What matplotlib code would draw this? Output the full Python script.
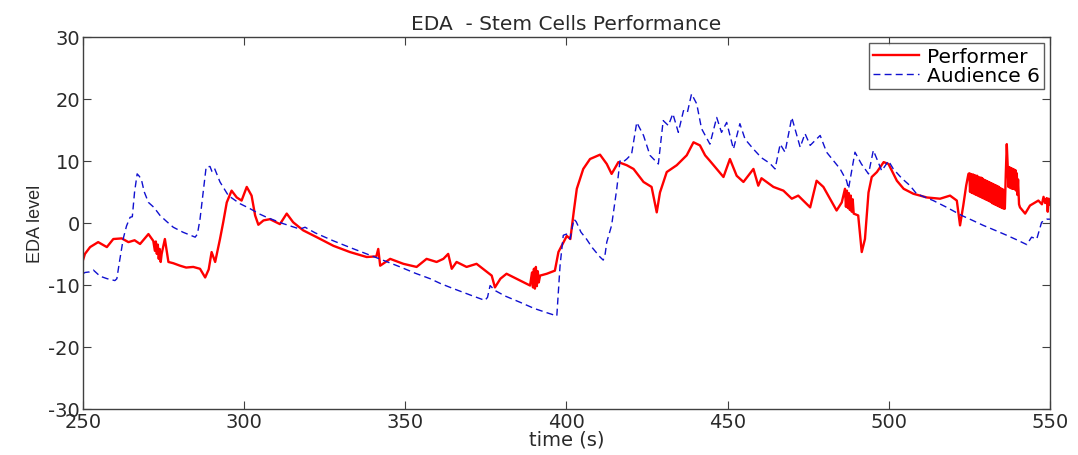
import matplotlib
matplotlib.use("Agg")
import matplotlib.pyplot as plt

# Audience 6 (blue dashed) - time (s), EDA level
aud_t = [250, 250.6, 252, 253.2, 255.3, 257.5, 259.9, 260.5, 261.3, 262.5, 263.5, 264.6, 265.3, 266.0, 266.8,
         267.5, 268.2, 269.0, 270.3, 272.0, 273.9, 276.0, 278.0, 281.0, 284.8, 285.5, 286.3, 287.3, 288.2,
         289.4, 290.0, 290.8, 292.5, 295.1, 298.7, 301.8, 304.9, 307.0, 312.0, 317.3, 318.9, 322.0, 327.7,
         333.0, 338.0, 343.0, 348.4, 353.0, 357.7, 361.0, 364.9, 370.0, 374.7, 375.5, 376.3, 377.8, 381.0,
         385.6, 390.0, 394.0, 397.0, 397.5, 398.0, 399.0, 400.0, 401.1, 402.3, 403.0, 404.5, 406.2, 408.0,
         410.4, 411.4, 412.0, 412.5, 414.0, 415.6, 416.6, 417.5, 418.7, 420.2, 421.8, 423.9, 425.9, 428.5,
         430.0, 431.6, 433.0, 434.7, 436.3, 437.5, 438.8, 440.4, 441.9, 444.5, 446.6, 448.1, 449.7, 451.8,
         453.8, 455.4, 458.0, 460.5, 463.1, 464.7, 466.3, 467.8, 469.9, 472.5, 474.0, 475.6, 478.7, 480.7,
         484.9, 486.9, 487.5, 489.5, 491.5, 493.7, 495.2, 497.8, 499.9, 501.4, 504.0, 506.6, 508.6, 513.8,
         518.0, 522.6, 526.0, 529.3, 533.0, 536.6, 540.0, 542.8, 544.3, 545.9, 547.4, 549.0, 550.0]
aud_v = [-8.2, -8.0, -7.9, -7.6, -8.6, -9.0, -9.3, -9.0, -6.3, -2.5, -0.5, 0.9, 1.0, 5.0, 7.9,
         7.5, 6.8, 5.0, 3.3, 2.5, 1.2, 0.2, -0.7, -1.5, -2.3, -1.8, 0.6, 5.0, 9.0,
         9.1, 8.3, 8.8, 6.6, 4.4, 3.1, 2.3, 1.4, 0.9, -0.1, -1.0, -0.7, -1.6, -2.9,
         -4.0, -5.0, -6.0, -7.1, -8.1, -9.0, -9.8, -10.6, -11.6, -12.5, -12.0, -10.1, -10.9, -11.8,
         -12.8, -13.8, -14.5, -15.0, -11.0, -6.9, -2.0, -1.8, -2.6, 0.6, 0.2, -1.5, -2.6, -4.0,
         -5.5, -6.0, -5.0, -3.1, -0.4, 5.5, 10.0, 9.8, 10.3, 11.1, 16.2, 14.1, 10.9, 9.5,
         16.5, 15.7, 17.6, 14.6, 18.1, 17.8, 20.8, 19.2, 15.2, 12.7, 17.0, 14.6, 16.2, 11.9,
         16.0, 13.5, 11.9, 10.5, 9.6, 8.7, 12.7, 11.4, 17.0, 12.2, 14.4, 12.5, 14.1, 11.4,
         8.7, 6.8, 5.5, 11.4, 9.5, 7.9, 11.7, 8.4, 10.0, 8.7, 7.2, 6.0, 4.7, 3.6,
         2.5, 1.2, 0.4, -0.4, -1.2, -2.0, -2.8, -3.5, -2.3, -2.6, 0.1, 0.6, 0.6]

# Performer (red solid) - time (s), EDA level
perf_t = [250, 250.6, 252.2, 254.7, 257.4, 259.4, 262.0, 264.1, 266.0, 267.7, 270.3, 271.8,
          272.3, 272.6, 272.9, 273.2, 273.5, 273.8, 274.1, 274.4, 275.4, 276.5, 278.0, 280.1, 282.0,
          284.2, 286.3, 287.9, 289.0, 289.9, 291.0, 292.5, 293.5, 294.6, 296.1, 297.7, 299.2, 300.8,
          302.3, 303.4, 304.4, 306.0, 308.0, 311.1, 313.2, 315.2, 318.3, 322.5, 327.7, 332.8, 338.0,
          341.0, 341.6, 342.2, 345.3, 349.4, 353.5, 356.6, 359.7, 361.8, 363.3, 364.4, 365.9, 369.0,
          372.1, 376.8, 377.8, 379.5, 381.4, 384.5, 388.7, 389.3, 389.6, 389.9, 390.2, 390.5, 390.8,
          391.1, 391.4, 391.8, 393.9, 396.4, 397.5, 398.5, 400.1, 401.2, 402.3, 403.2, 405.2, 407.3,
          410.4, 412.5, 414.0, 416.1, 418.7, 420.8, 423.9, 426.4, 428.0, 429.0, 431.1, 434.2, 437.3,
          439.4, 441.4, 443.0, 444.5, 446.6, 448.7, 450.7, 452.8, 454.9, 458.0, 459.5, 460.5, 464.2,
          467.3, 469.9, 471.9, 475.6, 477.6, 479.7, 483.8, 485.4, 486.4, 486.7, 487.0, 487.3, 487.6,
          487.9, 488.2, 488.5, 488.8, 489.1, 490.5, 491.6, 492.6, 493.7, 494.7, 496.3, 498.4, 499.9,
          502.5, 504.6, 507.6, 511.8, 515.9, 519.0, 521.1, 522.1, 523.1, 524.0, 524.7,
          525.0, 525.2, 525.4, 525.6, 525.8, 526.0, 526.2, 526.4, 526.6, 526.8, 527.0, 527.2, 527.4,
          527.6, 527.8, 528.0, 528.2, 528.4, 528.6, 528.8, 529.0, 529.2, 529.4, 529.6, 529.8, 530.0,
          530.2, 530.4, 530.6, 530.8, 531.0, 531.2, 531.4, 531.6, 531.8, 532.0, 532.2, 532.4, 532.6,
          532.8, 533.0, 533.2, 533.4, 533.6, 533.8, 534.0, 534.2, 534.4, 534.6, 534.8, 535.0, 535.2,
          535.4, 535.6, 535.8, 536.0, 536.3, 536.6, 536.9, 537.1, 537.3, 537.5, 537.7, 537.9, 538.1,
          538.3, 538.5, 538.7, 538.9, 539.1, 539.3, 539.5, 539.7, 539.9, 540.1, 540.4, 540.7, 542.3,
          543.8, 546.4, 547.5, 548.0, 548.5, 549.0, 549.3, 549.6, 550.0]
perf_v = [-6.0, -5.0, -3.9, -3.1, -3.9, -2.6, -2.5, -3.1, -2.8, -3.4, -1.8, -2.9,
          -4.5, -3.0, -5.0, -3.5, -5.8, -4.2, -6.3, -5.0, -2.6, -6.3, -6.5, -6.9, -7.2,
          -7.1, -7.4, -8.8, -7.5, -4.7, -6.3, -2.6, 0.1, 3.3, 5.2, 4.1, 3.6, 5.8,
          4.4, 1.2, -0.3, 0.4, 0.6, -0.2, 1.5, 0.1, -1.2, -2.3, -3.7, -4.7, -5.5,
          -5.4, -4.2, -6.9, -5.8, -6.6, -7.1, -5.8, -6.3, -5.8, -5.0, -7.4, -6.3, -7.1,
          -6.6, -8.5, -10.4, -9.0, -8.2, -9.0, -10.1, -8.0, -10.4, -7.4, -10.6, -7.1, -10.2,
          -7.8, -9.6, -8.5, -8.2, -7.7, -4.7, -3.7, -2.1, -2.6, 2.0, 5.5, 8.7, 10.3,
          11.0, 9.5, 7.9, 9.8, 9.3, 8.7, 6.6, 5.8, 1.7, 4.9, 8.2, 9.3, 10.9,
          13.0, 12.5, 10.9, 10.0, 8.7, 7.4, 10.3, 7.6, 6.6, 8.7, 6.0, 7.2, 5.8,
          5.2, 3.9, 4.4, 2.5, 6.8, 5.8, 2.0, 3.3, 5.5, 2.6, 5.2, 2.4, 4.8,
          2.1, 4.4, 1.8, 3.8, 1.5, 1.2, -4.7, -2.6, 4.9, 7.4, 8.2, 9.8, 9.5,
          6.8, 5.5, 4.7, 4.1, 3.9, 4.4, 3.6, -0.4, 2.8, 6.0, 7.9,
          8.0, 5.0, 7.9, 4.9, 7.8, 4.8, 7.8, 4.7, 7.7, 4.6, 7.6, 4.5, 7.6,
          4.4, 7.4, 4.3, 7.3, 4.2, 7.3, 4.1, 7.2, 4.0, 7.0, 3.9, 6.9, 3.8,
          6.8, 3.7, 6.7, 3.6, 6.6, 3.5, 6.5, 3.4, 6.4, 3.2, 6.3, 3.1, 6.2,
          3.0, 6.1, 2.9, 6.0, 2.8, 5.9, 2.7, 5.8, 2.6, 5.6, 2.5, 5.5, 2.4,
          5.4, 2.3, 5.2, 2.3, 8.0, 12.7, 9.0, 5.8, 9.0, 5.7, 8.9, 5.6, 8.8,
          5.5, 8.7, 5.5, 8.6, 5.4, 8.5, 5.2, 8.0, 4.5, 7.0, 3.0, 2.5, 1.5,
          2.8, 3.6, 3.0, 4.2, 3.2, 4.0, 1.8, 3.9, 3.0]

x_ticks = [250, 300, 350, 400, 450, 500, 550]
y_ticks = [-30, -20, -10, 0, 10, 20, 30]

fig = plt.figure(figsize=(10.78, 4.56), dpi=100)
ax = fig.add_axes([0.077, 0.101, 0.897, 0.816])

ax.plot(perf_t, perf_v, color='red', lw=1.7, label='Performer')
ax.plot(aud_t, aud_v, color='#1010d0', lw=1.0, ls=(0, (5, 3)), label='Audience 6')

ax.set_xlim(250, 550)
ax.set_ylim(-30, 30)
ax.set_xticks(x_ticks)
ax.set_yticks(y_ticks)
ax.tick_params(direction='in', top=True, right=True, length=6, labelsize=14,
               color='#404040', labelcolor='#2a2a2a', pad=2)
ax.set_yticklabels([str(v) for v in y_ticks])
for s in ax.spines.values():
    s.set_color('#404040')
    s.set_linewidth(1.0)

ax.set_title('EDA  - Stem Cells Performance', fontsize=14.5, color='#2a2a2a', pad=6)
ax.set_xlabel('time (s)', fontsize=14, color='#2a2a2a', labelpad=-1)
ax.set_ylabel('EDA level', fontsize=13, color='#2a2a2a', family='Liberation Sans', labelpad=3)

leg = ax.legend(loc='upper right', fontsize=14.5, frameon=True, fancybox=False,
                borderpad=0.2, handlelength=2.3, handletextpad=0.4, labelspacing=0.0,
                borderaxespad=0.3)
leg.get_frame().set_edgecolor('#333333')
leg.get_frame().set_linewidth(1.0)

fig.savefig('out.png', dpi=100)
